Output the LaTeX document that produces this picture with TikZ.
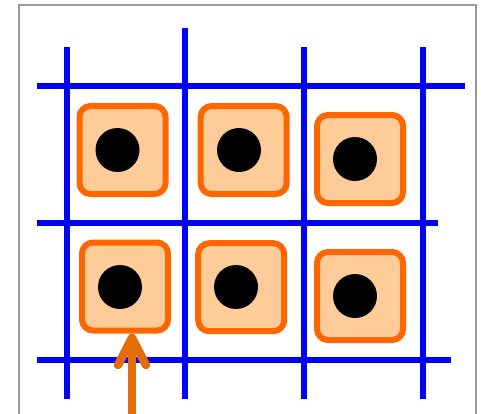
\documentclass[tikz,border=0pt]{standalone}
\begin{document}
\begin{tikzpicture}[x=1pt,y=-1pt,
  gridline/.style={draw=blue, line width=6pt},
  cellbox/.style={draw=cellorange, fill=cellfill, line width=6pt, rounded corners=11pt, minimum width=86pt, minimum height=88pt, inner sep=0pt, outer sep=0pt},
  dot/.style={circle, fill=black, minimum size=44pt, inner sep=0pt},
  arrowline/.style={draw=arrowc, line width=8.5pt, line cap=round, line join=round}]
\definecolor{cellorange}{HTML}{FF6600}
\definecolor{cellfill}{HTML}{FFCC99}
\definecolor{arrowc}{HTML}{E36C09}
\definecolor{framegray}{HTML}{999999}
\useasboundingbox (0,0) rectangle (481,413);
\clip (0,0) rectangle (481,413);
\draw[framegray, line width=1.5pt] (19,5) rectangle (476,430);
% grid
\draw[gridline] (67,47) -- (67,399);
\draw[gridline] (185,28) -- (185,399);
\draw[gridline] (304,47) -- (304,399);
\draw[gridline] (423,47) -- (423,399);
\draw[gridline] (37,86) -- (465,86);
\draw[gridline] (37,223) -- (438,223);
\draw[gridline] (37,360) -- (451,360);
% cells
\node[cellbox] (b1) at (122.5,150) {};
\node[cellbox] (b2) at (243.7,150) {};
\node[cellbox] (b3) at (360,159) {};
\node[cellbox] (b4) at (125,286.5) {};
\node[cellbox] (b5) at (241.2,287.2) {};
\node[cellbox] (b6) at (360,296) {};
\node[dot] (d1) at (117.5,150) {};
\node[dot] (d2) at (239,150) {};
\node[dot] (d3) at (355,159) {};
\node[dot] (d4) at (120,287) {};
\node[dot] (d5) at (236,287) {};
\node[dot] (d6) at (355,296) {};
% arrow
\coordinate (tip) at (132,338);
\coordinate (foot) at (132,430);
\coordinate (armL) at (118,365);
\coordinate (armR) at (146,365);
\draw[arrowline] (foot) -- (tip);
\draw[arrowline] (armL) -- (tip) -- (armR);
\end{tikzpicture}
\end{document}
